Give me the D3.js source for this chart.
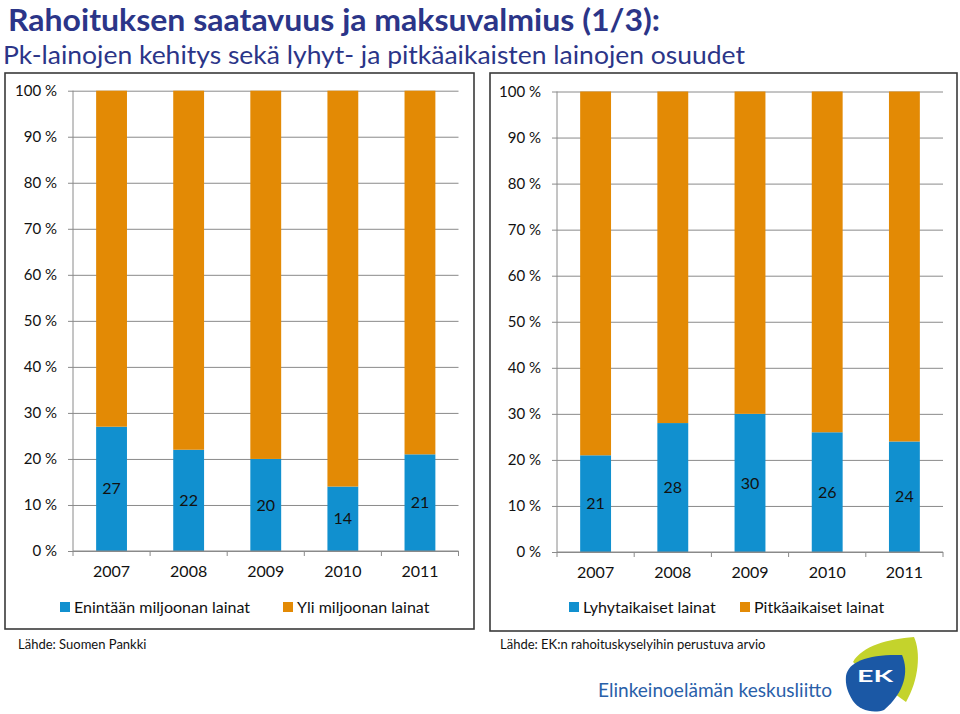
<!DOCTYPE html>
<html><head><meta charset="utf-8">
<script src="https://cdn.jsdelivr.net/npm/d3@7"></script>
<style>html,body{margin:0;padding:0;background:#fff;}svg{display:block;}</style>
</head><body>
<svg id="c" width="960" height="714"></svg>
<script>
// ---- data ----
const years = ["2007", "2008", "2009", "2010", "2011"];
const leftSmall = [27, 22, 20, 14, 21];      // Enintään miljoonan lainat
const leftLarge = [73, 78, 80, 86, 79];      // Yli miljoonan lainat
const rightShort = [21, 28, 30, 26, 24];     // Lyhytaikaiset lainat
const rightLong = [79, 72, 70, 74, 76];      // Pitkäaikaiset lainat
const yTicks = [0, 10, 20, 30, 40, 50, 60, 70, 80, 90, 100];
const leftLegend = ["Enintään miljoonan lainat", "Yli miljoonan lainat"];
const rightLegend = ["Lyhytaikaiset lainat", "Pitkäaikaiset lainat"];

const BLUE = "#1190cf", ORANGE = "#e38a05", GRID = "#8a8a8a", TITLE = "#2b3588";
const FONT = "Lato, 'Open Sans', sans-serif";

const svg = d3.select("#c");

svg.append("text").attr("x", 8).attr("y", 31).attr("font-family", FONT).attr("font-weight", 700)
  .attr("font-size", 31).attr("fill", TITLE).attr("textLength", 652).attr("lengthAdjust", "spacingAndGlyphs")
  .text("Rahoituksen saatavuus ja maksuvalmius (1/3):");
svg.append("text").attr("x", 3).attr("y", 64).attr("font-family", FONT)
  .attr("font-size", 25).attr("fill", TITLE).attr("textLength", 742).attr("lengthAdjust", "spacingAndGlyphs")
  .text("Pk-lainojen kehitys sekä lyhyt- ja pitkäaikaisten lainojen osuudet");

function panel(cfg) {
  const g = svg.append("g");
  g.append("rect").attr("x", cfg.box[0]).attr("y", cfg.box[1]).attr("width", cfg.box[2]).attr("height", cfg.box[3])
    .attr("fill", "#fff").attr("stroke", "#3a3a3a").attr("stroke-width", 1.6);
  const x = d3.scaleBand().domain(years).range([cfg.x0, cfg.x1]).paddingInner(0.6).paddingOuter(0.3);
  const y = d3.scaleLinear().domain([0, 100]).range([cfg.y0, cfg.yTop]);
  const yAxis = d3.axisLeft(y).tickValues(yTicks).tickSize(-(cfg.x1 - cfg.x0)).tickSizeOuter(0)
    .tickFormat(d => d + " %");
  const ya = g.append("g").attr("transform", `translate(${cfg.x0},0)`).call(yAxis);
  ya.select(".domain").remove();
  ya.selectAll(".tick line").attr("stroke", GRID).attr("x1", -5);
  ya.selectAll(".tick text").attr("font-family", FONT).attr("font-size", 15).attr("fill", "#111").attr("x", -cfg.labelGap);
  g.append("line").attr("x1", cfg.x0).attr("x2", cfg.x0).attr("y1", y(0)).attr("y2", y(100)).attr("stroke", GRID);
  const stacks = years.map((yr, i) => ({ yr, a: cfg.a[i], b: cfg.b[i] }));
  g.selectAll(".ba").data(stacks).join("rect").attr("x", d => x(d.yr)).attr("width", x.bandwidth())
    .attr("y", d => y(d.a)).attr("height", d => y(0) - y(d.a)).attr("fill", BLUE);
  g.selectAll(".bb").data(stacks).join("rect").attr("x", d => x(d.yr)).attr("width", x.bandwidth())
    .attr("y", d => y(d.a + d.b)).attr("height", d => y(d.a) - y(d.a + d.b)).attr("fill", ORANGE);
  g.selectAll(".lbl").data(stacks).join("text").attr("x", d => x(d.yr) + x.bandwidth() / 2)
    .attr("y", d => y(d.a / 2)).attr("dy", "0.35em").attr("text-anchor", "middle")
    .attr("font-family", FONT).attr("font-size", 16).attr("fill", "#111").text(d => d.a);
  const xa = g.append("g").attr("transform", `translate(0,${y(0)})`).call(d3.axisBottom(x).tickSize(0).tickPadding(15));
  xa.select(".domain").attr("stroke", GRID).attr("d", `M${cfg.x0},0H${cfg.x1}`);
  xa.selectAll(".tick text").attr("font-family", FONT).attr("font-size", 16).attr("fill", "#111");
  const step = x.step();
  const bounds = years.map(yr => x(yr) - (step - x.bandwidth()) / 2).concat([cfg.x1]);
  g.selectAll(".xt").data(bounds).join("line").attr("x1", d => d).attr("x2", d => d)
    .attr("y1", y(0)).attr("y2", y(0) + 5).attr("stroke", GRID);
  const lg = g.append("g");
  cfg.legend.forEach((name, i) => {
    lg.append("rect").attr("x", cfg.legX[i]).attr("y", cfg.legY - 5).attr("width", 10).attr("height", 10)
      .attr("fill", i === 0 ? BLUE : ORANGE);
    lg.append("text").attr("x", cfg.legX[i] + 14).attr("y", cfg.legY).attr("dy", "0.35em")
      .attr("font-family", FONT).attr("font-size", 16).attr("fill", "#111").text(name);
  });
  svg.append("text").attr("x", cfg.srcX).attr("y", 644).attr("dy", "0.35em").attr("font-family", FONT)
    .attr("font-size", 13).attr("fill", "#111").text(cfg.source);
}

panel({ box: [5, 73, 469, 556], x0: 73, x1: 458.5, y0: 551, yTop: 90.7, labelGap: 16,
  a: leftSmall, b: leftLarge, legend: leftLegend, legX: [60, 283], legY: 607,
  srcX: 18, source: "Lähde: Suomen Pankki" });
panel({ box: [490, 73, 467, 558], x0: 557, x1: 943, y0: 552, yTop: 91.5, labelGap: 16,
  a: rightShort, b: rightLong, legend: rightLegend, legX: [569, 740], legY: 607,
  srcX: 500, source: "Lähde: EK:n rahoituskyselyihin perustuva arvio" });

// logo
svg.append("text").attr("x", 598).attr("y", 697).attr("font-family", FONT)
  .attr("font-size", 19).attr("fill", "#2960a9").attr("textLength", 234).attr("lengthAdjust", "spacingAndGlyphs")
  .text("Elinkeinoelämän keskusliitto");
const logo = svg.append("g");
logo.append("path").attr("d", "M853,662 C862,646 888,639 914,637 C921,652 919,680 906,702 C890,690 870,676 853,662 Z").attr("fill", "#c4d32c");
logo.append("path").attr("d", "M846,676 C848,661 870,654 902,655 C909,671 905,692 884,710 C873,714 859,710 853,701 C848,693 845,685 846,676 Z").attr("fill", "#1b58a5");
logo.append("text").attr("x", 875).attr("y", 682).attr("text-anchor", "middle").attr("font-family", FONT)
  .attr("font-weight", 700).attr("font-size", 17).attr("fill", "#fff").attr("textLength", 36).attr("lengthAdjust", "spacingAndGlyphs").text("EK");
</script>
</body></html>
